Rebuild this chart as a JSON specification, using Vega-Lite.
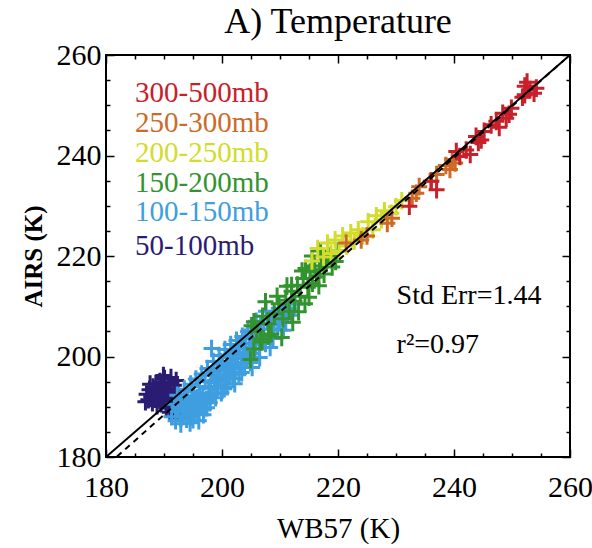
{
  "$schema": "https://vega.github.io/schema/vega-lite/v6.json",
  "width": 464,
  "height": 402,
  "autosize": {"type": "none"},
  "padding": {"left": 106, "top": 55, "right": 22, "bottom": 91},
  "background": "white",
  "title": {"text": "A) Temperature", "font": "Liberation Serif", "fontSize": 36, "fontWeight": "normal", "color": "#000", "offset": -1, "anchor": "middle"},
  "config": {
    "view": {"stroke": "#000", "strokeWidth": 2},
    "font": "Liberation Serif"
  },
  "datasets": {
    "pts": [
      {"layer": "50-100mb", "wb57": 187.0, "airs": 192.5},
      {"layer": "50-100mb", "wb57": 187.3, "airs": 191.4},
      {"layer": "50-100mb", "wb57": 187.5, "airs": 193.4},
      {"layer": "50-100mb", "wb57": 187.8, "airs": 192.0},
      {"layer": "50-100mb", "wb57": 188.0, "airs": 190.8},
      {"layer": "50-100mb", "wb57": 188.1, "airs": 193.9},
      {"layer": "50-100mb", "wb57": 188.3, "airs": 192.7},
      {"layer": "50-100mb", "wb57": 188.5, "airs": 191.5},
      {"layer": "50-100mb", "wb57": 188.6, "airs": 194.6},
      {"layer": "50-100mb", "wb57": 188.8, "airs": 190.2},
      {"layer": "50-100mb", "wb57": 189.0, "airs": 193.2},
      {"layer": "50-100mb", "wb57": 189.1, "airs": 191.8},
      {"layer": "50-100mb", "wb57": 189.3, "airs": 195.0},
      {"layer": "50-100mb", "wb57": 189.5, "airs": 190.6},
      {"layer": "50-100mb", "wb57": 189.6, "airs": 192.5},
      {"layer": "50-100mb", "wb57": 189.8, "airs": 194.1},
      {"layer": "50-100mb", "wb57": 190.0, "airs": 191.2},
      {"layer": "50-100mb", "wb57": 190.1, "airs": 195.6},
      {"layer": "50-100mb", "wb57": 190.3, "airs": 193.3},
      {"layer": "50-100mb", "wb57": 190.4, "airs": 189.8},
      {"layer": "50-100mb", "wb57": 190.6, "airs": 192.0},
      {"layer": "50-100mb", "wb57": 190.8, "airs": 194.7},
      {"layer": "50-100mb", "wb57": 190.9, "airs": 190.7},
      {"layer": "50-100mb", "wb57": 191.1, "airs": 193.6},
      {"layer": "50-100mb", "wb57": 191.2, "airs": 195.8},
      {"layer": "50-100mb", "wb57": 191.4, "airs": 191.5},
      {"layer": "50-100mb", "wb57": 191.5, "airs": 189.4},
      {"layer": "50-100mb", "wb57": 191.7, "airs": 194.3},
      {"layer": "50-100mb", "wb57": 191.8, "airs": 192.6},
      {"layer": "50-100mb", "wb57": 192.0, "airs": 190.3},
      {"layer": "50-100mb", "wb57": 192.1, "airs": 195.2},
      {"layer": "50-100mb", "wb57": 192.3, "airs": 188.7},
      {"layer": "50-100mb", "wb57": 192.4, "airs": 193.4},
      {"layer": "50-100mb", "wb57": 192.6, "airs": 191.2},
      {"layer": "50-100mb", "wb57": 192.8, "airs": 189.6},
      {"layer": "50-100mb", "wb57": 186.8, "airs": 191.0},
      {"layer": "50-100mb", "wb57": 187.6, "airs": 194.5},
      {"layer": "50-100mb", "wb57": 189.9, "airs": 196.2},
      {"layer": "50-100mb", "wb57": 191.0, "airs": 188.9},
      {"layer": "50-100mb", "wb57": 192.9, "airs": 187.8},
      {"layer": "100-150mb", "wb57": 191.3, "airs": 188.0},
      {"layer": "100-150mb", "wb57": 191.8, "airs": 190.5},
      {"layer": "100-150mb", "wb57": 192.0, "airs": 187.2},
      {"layer": "100-150mb", "wb57": 192.3, "airs": 192.3},
      {"layer": "100-150mb", "wb57": 192.5, "airs": 190.0},
      {"layer": "100-150mb", "wb57": 192.6, "airs": 189.0},
      {"layer": "100-150mb", "wb57": 192.9, "airs": 186.6},
      {"layer": "100-150mb", "wb57": 193.0, "airs": 191.0},
      {"layer": "100-150mb", "wb57": 193.2, "airs": 189.5},
      {"layer": "100-150mb", "wb57": 193.3, "airs": 188.2},
      {"layer": "100-150mb", "wb57": 193.5, "airs": 193.5},
      {"layer": "100-150mb", "wb57": 193.7, "airs": 190.0},
      {"layer": "100-150mb", "wb57": 193.8, "airs": 191.8},
      {"layer": "100-150mb", "wb57": 193.9, "airs": 187.5},
      {"layer": "100-150mb", "wb57": 194.1, "airs": 192.2},
      {"layer": "100-150mb", "wb57": 194.3, "airs": 189.2},
      {"layer": "100-150mb", "wb57": 194.4, "airs": 190.4},
      {"layer": "100-150mb", "wb57": 194.5, "airs": 186.8},
      {"layer": "100-150mb", "wb57": 194.6, "airs": 194.5},
      {"layer": "100-150mb", "wb57": 194.8, "airs": 191.0},
      {"layer": "100-150mb", "wb57": 194.9, "airs": 188.0},
      {"layer": "100-150mb", "wb57": 195.0, "airs": 187.4},
      {"layer": "100-150mb", "wb57": 195.1, "airs": 193.0},
      {"layer": "100-150mb", "wb57": 195.3, "airs": 189.8},
      {"layer": "100-150mb", "wb57": 195.5, "airs": 195.5},
      {"layer": "100-150mb", "wb57": 195.6, "airs": 190.2},
      {"layer": "100-150mb", "wb57": 195.7, "airs": 191.8},
      {"layer": "100-150mb", "wb57": 195.9, "airs": 188.8},
      {"layer": "100-150mb", "wb57": 196.0, "airs": 187.2},
      {"layer": "100-150mb", "wb57": 196.1, "airs": 194.0},
      {"layer": "100-150mb", "wb57": 196.2, "airs": 192.4},
      {"layer": "100-150mb", "wb57": 196.3, "airs": 190.6},
      {"layer": "100-150mb", "wb57": 196.5, "airs": 196.5},
      {"layer": "100-150mb", "wb57": 196.7, "airs": 192.6},
      {"layer": "100-150mb", "wb57": 196.8, "airs": 188.4},
      {"layer": "100-150mb", "wb57": 196.9, "airs": 189.6},
      {"layer": "100-150mb", "wb57": 197.1, "airs": 195.0},
      {"layer": "100-150mb", "wb57": 197.3, "airs": 191.4},
      {"layer": "100-150mb", "wb57": 197.4, "airs": 189.8},
      {"layer": "100-150mb", "wb57": 197.5, "airs": 197.6},
      {"layer": "100-150mb", "wb57": 197.7, "airs": 193.8},
      {"layer": "100-150mb", "wb57": 197.9, "airs": 190.8},
      {"layer": "100-150mb", "wb57": 198.0, "airs": 192.0},
      {"layer": "100-150mb", "wb57": 198.0, "airs": 194.0},
      {"layer": "100-150mb", "wb57": 198.1, "airs": 196.2},
      {"layer": "100-150mb", "wb57": 198.2, "airs": 201.6},
      {"layer": "100-150mb", "wb57": 198.3, "airs": 192.6},
      {"layer": "100-150mb", "wb57": 198.5, "airs": 199.0},
      {"layer": "100-150mb", "wb57": 198.6, "airs": 197.0},
      {"layer": "100-150mb", "wb57": 198.7, "airs": 194.8},
      {"layer": "100-150mb", "wb57": 198.9, "airs": 191.8},
      {"layer": "100-150mb", "wb57": 199.1, "airs": 197.6},
      {"layer": "100-150mb", "wb57": 199.2, "airs": 195.4},
      {"layer": "100-150mb", "wb57": 199.3, "airs": 193.9},
      {"layer": "100-150mb", "wb57": 199.5, "airs": 200.2},
      {"layer": "100-150mb", "wb57": 199.7, "airs": 196.0},
      {"layer": "100-150mb", "wb57": 199.8, "airs": 199.0},
      {"layer": "100-150mb", "wb57": 199.9, "airs": 192.8},
      {"layer": "100-150mb", "wb57": 200.1, "airs": 198.6},
      {"layer": "100-150mb", "wb57": 200.3, "airs": 195.2},
      {"layer": "100-150mb", "wb57": 200.4, "airs": 193.6},
      {"layer": "100-150mb", "wb57": 200.5, "airs": 201.4},
      {"layer": "100-150mb", "wb57": 200.6, "airs": 196.0},
      {"layer": "100-150mb", "wb57": 200.7, "airs": 197.2},
      {"layer": "100-150mb", "wb57": 200.9, "airs": 194.0},
      {"layer": "100-150mb", "wb57": 201.0, "airs": 197.8},
      {"layer": "100-150mb", "wb57": 201.1, "airs": 199.8},
      {"layer": "100-150mb", "wb57": 201.3, "airs": 196.4},
      {"layer": "100-150mb", "wb57": 201.5, "airs": 202.4},
      {"layer": "100-150mb", "wb57": 201.6, "airs": 200.4},
      {"layer": "100-150mb", "wb57": 201.7, "airs": 198.4},
      {"layer": "100-150mb", "wb57": 201.9, "airs": 195.6},
      {"layer": "100-150mb", "wb57": 202.1, "airs": 200.8},
      {"layer": "100-150mb", "wb57": 202.2, "airs": 194.6},
      {"layer": "100-150mb", "wb57": 202.3, "airs": 197.6},
      {"layer": "100-150mb", "wb57": 202.5, "airs": 203.2},
      {"layer": "100-150mb", "wb57": 202.7, "airs": 199.6},
      {"layer": "100-150mb", "wb57": 202.8, "airs": 201.6},
      {"layer": "100-150mb", "wb57": 202.9, "airs": 196.6},
      {"layer": "100-150mb", "wb57": 203.1, "airs": 201.8},
      {"layer": "100-150mb", "wb57": 203.3, "airs": 198.8},
      {"layer": "100-150mb", "wb57": 203.4, "airs": 196.8},
      {"layer": "100-150mb", "wb57": 203.5, "airs": 204.0},
      {"layer": "100-150mb", "wb57": 203.7, "airs": 200.6},
      {"layer": "100-150mb", "wb57": 203.9, "airs": 197.8},
      {"layer": "100-150mb", "wb57": 204.0, "airs": 203.8},
      {"layer": "100-150mb", "wb57": 204.1, "airs": 202.6},
      {"layer": "100-150mb", "wb57": 204.3, "airs": 199.6},
      {"layer": "100-150mb", "wb57": 204.5, "airs": 205.0},
      {"layer": "100-150mb", "wb57": 204.6, "airs": 200.0},
      {"layer": "100-150mb", "wb57": 204.7, "airs": 201.6},
      {"layer": "100-150mb", "wb57": 204.9, "airs": 198.8},
      {"layer": "100-150mb", "wb57": 205.1, "airs": 203.6},
      {"layer": "100-150mb", "wb57": 205.2, "airs": 197.8},
      {"layer": "100-150mb", "wb57": 205.3, "airs": 200.6},
      {"layer": "100-150mb", "wb57": 205.5, "airs": 205.8},
      {"layer": "100-150mb", "wb57": 205.8, "airs": 202.4},
      {"layer": "100-150mb", "wb57": 205.9, "airs": 207.0},
      {"layer": "100-150mb", "wb57": 206.1, "airs": 204.6},
      {"layer": "100-150mb", "wb57": 206.4, "airs": 201.6},
      {"layer": "100-150mb", "wb57": 206.5, "airs": 199.8},
      {"layer": "100-150mb", "wb57": 206.7, "airs": 206.4},
      {"layer": "100-150mb", "wb57": 206.9, "airs": 203.4},
      {"layer": "100-150mb", "wb57": 207.0, "airs": 204.0},
      {"layer": "100-150mb", "wb57": 207.2, "airs": 205.4},
      {"layer": "100-150mb", "wb57": 207.5, "airs": 202.6},
      {"layer": "100-150mb", "wb57": 207.6, "airs": 209.0},
      {"layer": "100-150mb", "wb57": 207.8, "airs": 207.4},
      {"layer": "100-150mb", "wb57": 208.1, "airs": 204.4},
      {"layer": "100-150mb", "wb57": 208.3, "airs": 201.8},
      {"layer": "100-150mb", "wb57": 208.5, "airs": 206.4},
      {"layer": "100-150mb", "wb57": 208.8, "airs": 203.6},
      {"layer": "100-150mb", "wb57": 209.0, "airs": 206.6},
      {"layer": "100-150mb", "wb57": 209.2, "airs": 208.0},
      {"layer": "100-150mb", "wb57": 209.6, "airs": 205.4},
      {"layer": "100-150mb", "wb57": 209.8, "airs": 209.6},
      {"layer": "100-150mb", "wb57": 210.0, "airs": 207.4},
      {"layer": "100-150mb", "wb57": 210.5, "airs": 209.0},
      {"layer": "100-150mb", "wb57": 210.6, "airs": 205.2},
      {"layer": "100-150mb", "wb57": 211.0, "airs": 206.8},
      {"layer": "100-150mb", "wb57": 211.3, "airs": 208.4},
      {"layer": "100-150mb", "wb57": 211.5, "airs": 209.6},
      {"layer": "100-150mb", "wb57": 212.0, "airs": 208.2},
      {"layer": "100-150mb", "wb57": 212.6, "airs": 210.4},
      {"layer": "150-200mb", "wb57": 204.9, "airs": 199.4},
      {"layer": "150-200mb", "wb57": 205.5, "airs": 206.9},
      {"layer": "150-200mb", "wb57": 205.1, "airs": 206.1},
      {"layer": "150-200mb", "wb57": 205.5, "airs": 201.5},
      {"layer": "150-200mb", "wb57": 206.0, "airs": 205.0},
      {"layer": "150-200mb", "wb57": 206.6, "airs": 203.5},
      {"layer": "150-200mb", "wb57": 206.9, "airs": 202.9},
      {"layer": "150-200mb", "wb57": 207.0, "airs": 208.0},
      {"layer": "150-200mb", "wb57": 207.5, "airs": 210.9},
      {"layer": "150-200mb", "wb57": 208.0, "airs": 206.5},
      {"layer": "150-200mb", "wb57": 208.0, "airs": 204.1},
      {"layer": "150-200mb", "wb57": 208.5, "airs": 204.5},
      {"layer": "150-200mb", "wb57": 209.0, "airs": 208.5},
      {"layer": "150-200mb", "wb57": 209.5, "airs": 212.0},
      {"layer": "150-200mb", "wb57": 209.8, "airs": 210.5},
      {"layer": "150-200mb", "wb57": 210.3, "airs": 203.8},
      {"layer": "150-200mb", "wb57": 210.5, "airs": 207.5},
      {"layer": "150-200mb", "wb57": 211.0, "airs": 211.2},
      {"layer": "150-200mb", "wb57": 211.2, "airs": 214.0},
      {"layer": "150-200mb", "wb57": 211.6, "airs": 209.0},
      {"layer": "150-200mb", "wb57": 212.0, "airs": 213.0},
      {"layer": "150-200mb", "wb57": 212.0, "airs": 214.1},
      {"layer": "150-200mb", "wb57": 212.2, "airs": 206.8},
      {"layer": "150-200mb", "wb57": 212.5, "airs": 211.0},
      {"layer": "150-200mb", "wb57": 213.0, "airs": 214.2},
      {"layer": "150-200mb", "wb57": 213.2, "airs": 208.9},
      {"layer": "150-200mb", "wb57": 213.5, "airs": 212.0},
      {"layer": "150-200mb", "wb57": 213.8, "airs": 217.0},
      {"layer": "150-200mb", "wb57": 214.0, "airs": 215.5},
      {"layer": "150-200mb", "wb57": 214.3, "airs": 210.5},
      {"layer": "150-200mb", "wb57": 214.4, "airs": 217.5},
      {"layer": "150-200mb", "wb57": 214.8, "airs": 213.8},
      {"layer": "150-200mb", "wb57": 215.0, "airs": 211.8},
      {"layer": "150-200mb", "wb57": 215.2, "airs": 216.8},
      {"layer": "150-200mb", "wb57": 215.5, "airs": 220.0},
      {"layer": "150-200mb", "wb57": 215.6, "airs": 214.6},
      {"layer": "150-200mb", "wb57": 216.0, "airs": 218.0},
      {"layer": "150-200mb", "wb57": 216.3, "airs": 215.8},
      {"layer": "150-200mb", "wb57": 216.7, "airs": 214.1},
      {"layer": "150-200mb", "wb57": 216.8, "airs": 217.2},
      {"layer": "150-200mb", "wb57": 217.0, "airs": 221.0},
      {"layer": "150-200mb", "wb57": 217.2, "airs": 219.0},
      {"layer": "150-200mb", "wb57": 217.6, "airs": 216.4},
      {"layer": "150-200mb", "wb57": 218.0, "airs": 218.6},
      {"layer": "150-200mb", "wb57": 218.5, "airs": 220.0},
      {"layer": "150-200mb", "wb57": 219.0, "airs": 217.8},
      {"layer": "150-200mb", "wb57": 219.6, "airs": 218.9},
      {"layer": "150-200mb", "wb57": 220.0, "airs": 221.0},
      {"layer": "200-250mb", "wb57": 215.5, "airs": 219.0},
      {"layer": "200-250mb", "wb57": 216.5, "airs": 221.5},
      {"layer": "200-250mb", "wb57": 217.5, "airs": 219.8},
      {"layer": "200-250mb", "wb57": 218.2, "airs": 222.6},
      {"layer": "200-250mb", "wb57": 218.8, "airs": 220.5},
      {"layer": "200-250mb", "wb57": 219.5, "airs": 223.2},
      {"layer": "200-250mb", "wb57": 220.2, "airs": 221.0},
      {"layer": "200-250mb", "wb57": 220.8, "airs": 224.0},
      {"layer": "200-250mb", "wb57": 221.5, "airs": 222.0},
      {"layer": "200-250mb", "wb57": 222.2, "airs": 224.6},
      {"layer": "200-250mb", "wb57": 222.8, "airs": 223.0},
      {"layer": "200-250mb", "wb57": 223.5, "airs": 225.2},
      {"layer": "200-250mb", "wb57": 224.3, "airs": 224.0},
      {"layer": "200-250mb", "wb57": 225.2, "airs": 226.8},
      {"layer": "200-250mb", "wb57": 226.0, "airs": 225.2},
      {"layer": "200-250mb", "wb57": 226.6, "airs": 228.0},
      {"layer": "200-250mb", "wb57": 227.5, "airs": 227.2},
      {"layer": "200-250mb", "wb57": 228.0, "airs": 229.0},
      {"layer": "200-250mb", "wb57": 229.2, "airs": 228.5},
      {"layer": "200-250mb", "wb57": 230.0, "airs": 229.8},
      {"layer": "200-250mb", "wb57": 231.0, "airs": 231.0},
      {"layer": "250-300mb", "wb57": 221.4, "airs": 222.6},
      {"layer": "250-300mb", "wb57": 224.0, "airs": 223.2},
      {"layer": "250-300mb", "wb57": 225.0, "airs": 224.0},
      {"layer": "250-300mb", "wb57": 228.5, "airs": 226.5},
      {"layer": "250-300mb", "wb57": 229.3, "airs": 227.5},
      {"layer": "250-300mb", "wb57": 232.8, "airs": 231.5},
      {"layer": "250-300mb", "wb57": 233.5, "airs": 232.5},
      {"layer": "250-300mb", "wb57": 234.0, "airs": 233.8},
      {"layer": "250-300mb", "wb57": 236.0, "airs": 234.9},
      {"layer": "250-300mb", "wb57": 237.0, "airs": 236.2},
      {"layer": "250-300mb", "wb57": 238.6, "airs": 238.0},
      {"layer": "250-300mb", "wb57": 239.3, "airs": 237.2},
      {"layer": "250-300mb", "wb57": 239.7, "airs": 239.2},
      {"layer": "250-300mb", "wb57": 240.2, "airs": 238.5},
      {"layer": "300-500mb", "wb57": 232.3, "airs": 229.9},
      {"layer": "300-500mb", "wb57": 236.1, "airs": 234.9},
      {"layer": "300-500mb", "wb57": 237.0, "airs": 233.2},
      {"layer": "300-500mb", "wb57": 240.4, "airs": 240.8},
      {"layer": "300-500mb", "wb57": 241.0, "airs": 239.8},
      {"layer": "300-500mb", "wb57": 242.1, "airs": 241.1},
      {"layer": "300-500mb", "wb57": 242.8, "airs": 240.2},
      {"layer": "300-500mb", "wb57": 243.8, "airs": 243.8},
      {"layer": "300-500mb", "wb57": 244.2, "airs": 242.6},
      {"layer": "300-500mb", "wb57": 244.7, "airs": 243.1},
      {"layer": "300-500mb", "wb57": 245.2, "airs": 244.8},
      {"layer": "300-500mb", "wb57": 246.4, "airs": 246.1},
      {"layer": "300-500mb", "wb57": 247.3, "airs": 246.8},
      {"layer": "300-500mb", "wb57": 247.8, "airs": 245.6},
      {"layer": "300-500mb", "wb57": 248.4, "airs": 248.4},
      {"layer": "300-500mb", "wb57": 249.0, "airs": 247.4},
      {"layer": "300-500mb", "wb57": 249.5, "airs": 248.2},
      {"layer": "300-500mb", "wb57": 249.9, "airs": 249.4},
      {"layer": "300-500mb", "wb57": 251.8, "airs": 251.6},
      {"layer": "300-500mb", "wb57": 252.2, "airs": 253.8},
      {"layer": "300-500mb", "wb57": 252.2, "airs": 252.1},
      {"layer": "300-500mb", "wb57": 252.6, "airs": 254.6},
      {"layer": "300-500mb", "wb57": 253.1, "airs": 253.1},
      {"layer": "300-500mb", "wb57": 253.8, "airs": 252.4},
      {"layer": "300-500mb", "wb57": 254.2, "airs": 253.4}
    ],
    "legendRows": [
      {"layer": "300-500mb", "wb57": 185.0, "airs": 252.4},
      {"layer": "250-300mb", "wb57": 185.0, "airs": 246.4},
      {"layer": "200-250mb", "wb57": 185.0, "airs": 240.4},
      {"layer": "150-200mb", "wb57": 185.0, "airs": 234.5},
      {"layer": "100-150mb", "wb57": 185.0, "airs": 228.7},
      {"layer": "50-100mb", "wb57": 185.0, "airs": 222.0}
    ],
    "oneToOne": [
      {"wb57": 180, "airs": 180},
      {"wb57": 260, "airs": 260}
    ],
    "fit": [
      {"wb57": 181.9, "airs": 180.1},
      {"wb57": 259.0, "airs": 259.0}
    ],
    "stats": [
      {"label": "Std Err=1.44", "wb57": 230.1, "airs": 212.0},
      {"label": "r²=0.97", "wb57": 230.1, "airs": 202.2}
    ]
  },
  "resolve": {"axis": {"x": "independent", "y": "independent"}},
  "layer": [
    {
      "data": {"name": "pts"},
      "mark": {"type": "point", "shape": "M-1,0H1M0,-1.1V1.1", "filled": false, "size": 256, "strokeWidth": 3, "opacity": 1},
      "encoding": {
        "x": {"field": "wb57", "type": "quantitative", "scale": {"domain": [180, 260], "nice": false, "zero": false},
          "axis": {"orient": "bottom", "title": "WB57 (K)", "values": [180,185,190,195,200,205,210,215,220,225,230,235,240,245,250,255,260],
            "labelExpr": "datum.value % 20 === 0 ? datum.label : ''", "labelFont": "Liberation Serif", "labelFontSize": 30, "labelColor": "#000",
            "labelPadding": 23, "labelFlush": false, "labelOverlap": false, "labelBound": false,
            "tickSize": {"condition": {"test": "datum.value % 20 === 0", "value": -8}, "value": -4},
            "tickColor": "#000", "tickWidth": 1.5, "domain": false, "grid": false,
            "titleFont": "Liberation Serif", "titleFontSize": 29, "titleFontWeight": "normal", "titleColor": "#000", "titlePadding": 8}},
        "y": {"field": "airs", "type": "quantitative", "scale": {"domain": [180, 260], "nice": false, "zero": false},
          "axis": {"orient": "left", "title": "AIRS (K)", "values": [180,185,190,195,200,205,210,215,220,225,230,235,240,245,250,255,260],
            "labelExpr": "datum.value % 20 === 0 ? datum.label : ''", "labelFont": "Liberation Serif", "labelFontSize": 30, "labelColor": "#000",
            "labelPadding": 13, "labelFlush": false, "labelOverlap": false, "labelBound": false,
            "tickSize": {"condition": {"test": "datum.value % 20 === 0", "value": -8}, "value": -4},
            "tickColor": "#000", "tickWidth": 1.5, "domain": false, "grid": false,
            "titleFont": "Liberation Serif", "titleFontSize": 25, "titleFontWeight": "bold", "titleColor": "#000", "titlePadding": 10}},
        "color": {"field": "layer", "type": "nominal", "legend": null,
          "scale": {"domain": ["300-500mb", "250-300mb", "200-250mb", "150-200mb", "100-150mb", "50-100mb"],
            "range": ["#c8202a", "#cd6a28", "#d2dc2a", "#33932f", "#3e9ee0", "#2a1c72"]}}
      }
    },
    {
      "data": {"name": "oneToOne"},
      "mark": {"type": "line", "color": "#000", "strokeWidth": 2},
      "encoding": {
        "x": {"field": "wb57", "type": "quantitative", "scale": {"domain": [180, 260], "nice": false, "zero": false},
          "axis": {"orient": "top", "title": null, "values": [180,185,190,195,200,205,210,215,220,225,230,235,240,245,250,255,260],
            "labels": false, "tickSize": {"condition": {"test": "datum.value % 20 === 0", "value": -8}, "value": -4},
            "tickColor": "#000", "tickWidth": 1.5, "domain": false, "grid": false}},
        "y": {"field": "airs", "type": "quantitative", "scale": {"domain": [180, 260], "nice": false, "zero": false},
          "axis": {"orient": "right", "title": null, "values": [180,185,190,195,200,205,210,215,220,225,230,235,240,245,250,255,260],
            "labels": false, "tickSize": {"condition": {"test": "datum.value % 20 === 0", "value": -8}, "value": -4},
            "tickColor": "#000", "tickWidth": 1.5, "domain": false, "grid": false}}
      }
    },
    {
      "data": {"name": "fit"},
      "mark": {"type": "line", "color": "#000", "strokeWidth": 2, "strokeDash": [6, 5]},
      "encoding": {
        "x": {"field": "wb57", "type": "quantitative", "axis": null},
        "y": {"field": "airs", "type": "quantitative", "axis": null}
      }
    },
    {
      "data": {"name": "legendRows"},
      "mark": {"type": "text", "align": "left", "baseline": "middle", "font": "Liberation Serif", "fontSize": 29},
      "encoding": {
        "x": {"field": "wb57", "type": "quantitative", "axis": null},
        "y": {"field": "airs", "type": "quantitative", "axis": null},
        "text": {"field": "layer"},
        "color": {"field": "layer", "type": "nominal", "legend": null}
      }
    },
    {
      "data": {"name": "stats"},
      "mark": {"type": "text", "align": "left", "baseline": "middle", "font": "Liberation Serif", "fontSize": 28, "color": "#000"},
      "encoding": {
        "x": {"field": "wb57", "type": "quantitative", "axis": null},
        "y": {"field": "airs", "type": "quantitative", "axis": null},
        "text": {"field": "label"}
      }
    }
  ]
}
